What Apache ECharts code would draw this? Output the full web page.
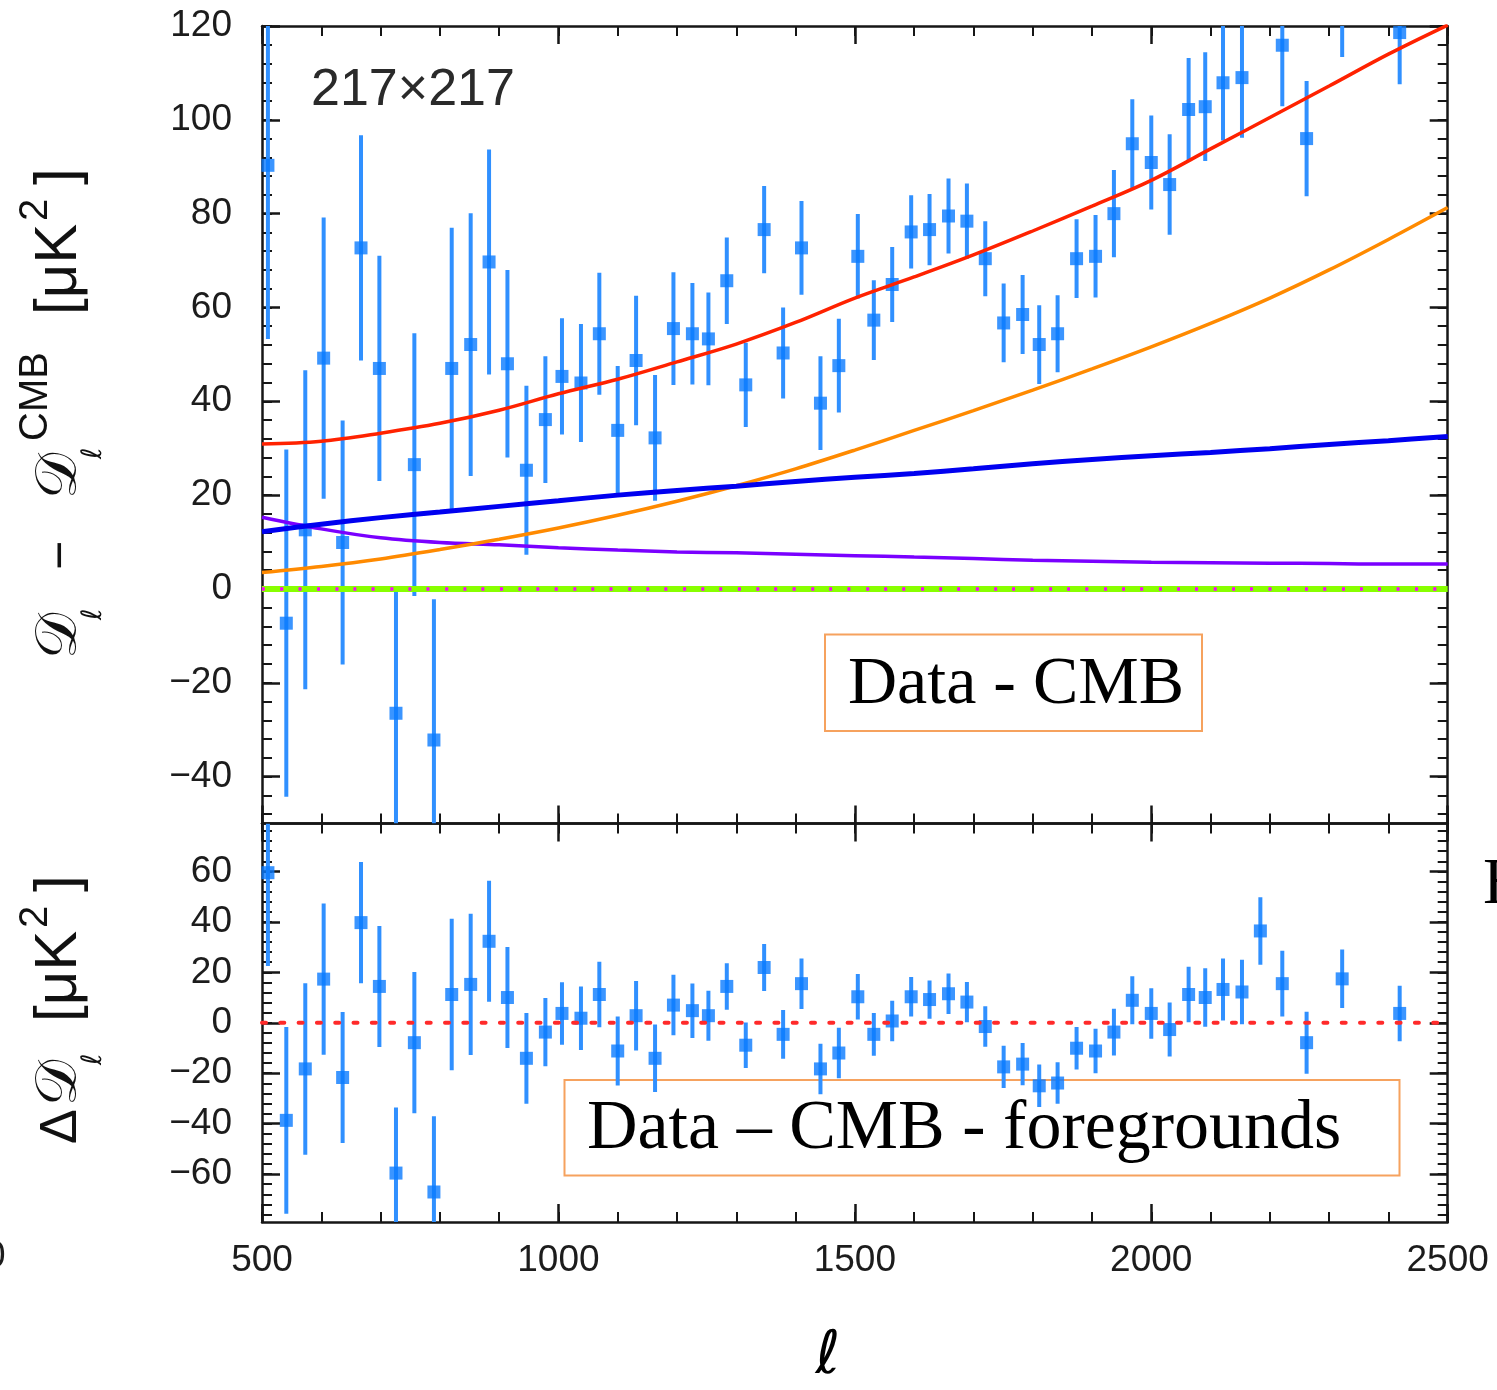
<!DOCTYPE html>
<html>
<head>
<meta charset="utf-8">
<script src="https://cdn.jsdelivr.net/npm/echarts@6/dist/echarts.min.js"></script>
<style>
html, body { margin: 0; padding: 0; background: #ffffff; }
#chart { width: 1497px; height: 1390px; }
</style>
</head>
<body>
<div id="chart"></div>
<script>
// Band-power multipoles (bin centres)
const ell = [510, 541, 573, 604, 636, 667, 698, 726, 757, 790,
             820, 852, 883, 914, 946, 978, 1006, 1038, 1069, 1100,
             1131, 1163, 1194, 1226, 1253, 1284, 1316, 1347, 1379, 1410,
             1442, 1473, 1505, 1532, 1563, 1595, 1626, 1658, 1689, 1720,
             1751, 1783, 1811, 1842, 1874, 1906, 1937, 1968, 2000, 2031,
             2063, 2091, 2121, 2153, 2184, 2221, 2262, 2322, 2419];

// D_l - D_l^CMB  [muK^2]
const dataMinusCmb = [90.3, -7.3, 12.6, 49.2, 9.9, 72.7, 47.0, -26.5, 26.5, -32.2,
                      47.0, 52.1, 69.7, 48.0, 25.3, 36.1, 45.3, 43.9, 54.4, 33.8,
                      48.7, 32.2, 55.5, 54.4, 53.3, 65.7, 43.5, 76.6, 50.3, 72.7,
                      39.6, 47.6, 70.9, 57.3, 64.9, 76.1, 76.6, 79.5, 78.4, 70.4,
                      56.7, 58.5, 52.1, 54.4, 70.4, 70.9, 80.0, 94.9, 90.9, 86.2,
                      102.2, 102.8, 107.9, 109.0, 135.0, 115.9, 96.0, 125.0, 118.6];

// Residual after CMB and foregrounds  [muK^2]
const residual = [59.5, -38.7, -18.3, 17.3, -21.7, 39.7, 14.4, -59.6, -7.9, -67.1,
                  11.2, 15.2, 32.3, 10.0, -14.1, -3.7, 3.7, 1.8, 11.2, -11.2,
                  2.8, -14.1, 7.0, 4.8, 2.8, 14.4, -8.9, 21.9, -4.6, 15.5,
                  -18.3, -12.0, 10.3, -4.6, 0.7, 10.3, 9.2, 11.5, 8.2, -1.5,
                  -17.5, -16.4, -25.0, -23.9, -10.1, -11.2, -3.7, 8.9, 3.7, -2.7,
                  11.2, 10.0, 13.2, 12.2, 36.4, 15.5, -7.9, 17.4, 3.7];

// 1-sigma uncertainty of each band power
const sigma = [37, 37, 34, 30, 26, 24, 24, 26, 28, 30,
               30, 28, 24, 20, 18, 13.5, 12.4, 12.6, 13, 13.7,
               13.8, 13.4, 12, 10.8, 9.9, 9.2, 9, 9.3, 9.7, 10,
               10, 10, 9, 8.5, 8, 7.8, 7.6, 8, 8, 8,
               8.4, 8.4, 8.4, 8.2, 8.4, 8.8, 9.3, 9.5, 10, 10.7,
               11, 11.6, 12.3, 12.8, 13.4, 13, 12.3, 11.6, 11];

// Foreground model components sampled every 100 in multipole
const modelEll = [500, 600, 700, 800, 900, 1000, 1100, 1200, 1300, 1400, 1500,
                  1600, 1700, 1800, 1900, 2000, 2100, 2200, 2300, 2400, 2500];
const totalModel = [30.9, 31.5, 33.2, 35.3, 38.1, 41.6, 44.7, 48.4, 52.2, 56.8, 62.0,
                    66.5, 71.2, 76.3, 81.6, 87.1, 93.8, 100.5, 107.2, 114.0, 120.2];
const poissonModel = [3.5, 4.8, 6.4, 8.4, 10.6, 13.0, 15.7, 18.7, 22.0, 25.6, 29.6,
                      33.8, 38.0, 42.4, 46.9, 51.6, 56.6, 62.0, 68.0, 74.5, 81.3];
const clusteredModel = [12.2, 13.8, 15.2, 16.4, 17.6, 18.8, 20.0, 21.0, 21.9, 22.9, 23.8,
                        24.6, 25.6, 26.7, 27.6, 28.4, 29.1, 29.9, 30.8, 31.6, 32.5];
const szModel = [15.3, 12.8, 10.9, 9.9, 9.4, 8.8, 8.3, 7.9, 7.7, 7.4, 7.1,
                 6.8, 6.5, 6.1, 5.9, 5.7, 5.6, 5.5, 5.4, 5.3, 5.3];
const greenModel = [0, 0, 0, 0, 0, 0, 0, 0, 0, 0, 0, 0, 0, 0, 0, 0, 0, 0, 0, 0, 0];
const magentaModel = [0, 0, 0, 0, 0, 0, 0, 0, 0, 0, 0, 0, 0, 0, 0, 0, 0, 0, 0, 0, 0];
const residualZero = [0, 0, 0, 0, 0, 0, 0, 0, 0, 0, 0, 0, 0, 0, 0, 0, 0, 0, 0, 0, 0];

// Axis ticks and labels
const ellMajor = [500, 1000, 1500, 2000, 2500];
const topLabels = [-40, -20, 0, 20, 40, 60, 80, 100, 120];
const resLabels = [-60, -40, -20, 0, 20, 40, 60];

const X_MIN = 500, X_MAX = 2500;
const TOP_MIN = -50, TOP_MAX = 120;
const RES_MIN = -79, RES_MAX = 79;

function stepValues(from, to, step) {
  const out = [];
  for (let v = from; v <= to + 1e-9; v += step) out.push(v);
  return out;
}
const ellMinor = stepValues(500, 2500, 100);
const topMinor = stepValues(-48, 120, 4);
const resMinor = stepValues(-76, 76, 4);
const topMajor = stepValues(-40, 120, 20);
const resMajor = stepValues(-60, 60, 20);

const INK = '#161616';
const LABEL_FONT = 'Liberation Sans';
const fmt = v => String(v).replace('-', '\u2212');

function axis(kind, grid, position, min, max, ticks, len, labels, margin) {
  const a = {
    type: 'value', gridIndex: grid, position: position, min: min, max: max,
    splitLine: { show: false },
    axisLine: { show: len > 12, onZero: false, lineStyle: { color: INK, width: 2.5 } },
    axisTick: { show: true, inside: true, length: len, customValues: ticks,
                lineStyle: { color: INK, width: len > 12 ? 2.5 : 2 } },
    axisLabel: { show: false }
  };
  if (labels) {
    a.axisLabel = { show: true, customValues: labels, formatter: fmt,
                    fontFamily: LABEL_FONT, fontSize: 37, color: '#1c1c1c', margin: margin };
  }
  return a;
}

const xAxes = [
  axis('x', 0, 'bottom', X_MIN, X_MAX, ellMajor, 18, null),
  axis('x', 0, 'bottom', X_MIN, X_MAX, ellMinor, 10, null),
  axis('x', 0, 'top', X_MIN, X_MAX, ellMajor, 18, null),
  axis('x', 0, 'top', X_MIN, X_MAX, ellMinor, 10, null),
  axis('x', 1, 'bottom', X_MIN, X_MAX, ellMajor, 18, ellMajor, 20),
  axis('x', 1, 'bottom', X_MIN, X_MAX, ellMinor, 10, null),
  axis('x', 1, 'top', X_MIN, X_MAX, ellMajor, 18, null),
  axis('x', 1, 'top', X_MIN, X_MAX, ellMinor, 10, null)
];
const yAxes = [
  axis('y', 0, 'left', TOP_MIN, TOP_MAX, topMajor, 18, topLabels, 30),
  axis('y', 0, 'left', TOP_MIN, TOP_MAX, topMinor, 10, null),
  axis('y', 0, 'right', TOP_MIN, TOP_MAX, topMajor, 18, null),
  axis('y', 0, 'right', TOP_MIN, TOP_MAX, topMinor, 10, null),
  axis('y', 1, 'left', RES_MIN, RES_MAX, resMajor, 18, resLabels, 30),
  axis('y', 1, 'left', RES_MIN, RES_MAX, resMinor, 10, null),
  axis('y', 1, 'right', RES_MIN, RES_MAX, resMajor, 18, null),
  axis('y', 1, 'right', RES_MIN, RES_MAX, resMinor, 10, null)
];

const pairs = (xs, ys) => xs.map((x, i) => [x, ys[i]]);

function curve(values, color, width, z, dash) {
  return {
    type: 'line', xAxisIndex: 0, yAxisIndex: 0, data: pairs(modelEll, values),
    symbol: 'none', smooth: 0.35, clip: true, silent: true, z: z,
    lineStyle: { color: color, width: width, type: dash || 'solid' }
  };
}

function errorBars(xi, yi, values, lo, hi) {
  return {
    type: 'custom', xAxisIndex: xi, yAxisIndex: yi, z: 2, silent: true, clip: true,
    data: ell.map((l, i) => [l, values[i] - sigma[i], values[i] + sigma[i]]),
    encode: { x: 0, y: [1, 2] },
    renderItem: function (params, api) {
      const x = api.value(0);
      const a = Math.max(api.value(1), lo);
      const b = Math.min(api.value(2), hi);
      if (a >= b) return null;
      const p1 = api.coord([x, a]);
      const p2 = api.coord([x, b]);
      return { type: 'line', shape: { x1: p1[0], y1: p1[1], x2: p2[0], y2: p2[1] },
               style: { stroke: '#3090ff', lineWidth: 4 } };
    }
  };
}

function markers(xi, yi, values) {
  return {
    type: 'scatter', xAxisIndex: xi, yAxisIndex: yi, z: 3, silent: true, clip: true,
    data: pairs(ell, values), symbol: 'rect', symbolSize: 13,
    itemStyle: { color: '#0a7bff' }
  };
}

function vtext(txt, X, Y, font) {
  return { type: 'text', x: X, y: Y, rotation: Math.PI / 2, silent: true, z: 10,
           style: { text: txt, font: font, fill: '#111111', align: 'left', verticalAlign: 'middle' } };
}

const SCRIPT = '"DejaVu Serif", "DejaVu Sans", serif';
const SANS = '"Liberation Sans", Arial, sans-serif';
const SERIF = '"Liberation Serif", "Times New Roman", serif';

const option = {
  animation: false,
  backgroundColor: '#ffffff',
  grid: [
    { left: 262, top: 26, width: 1185.7, height: 797.5 },
    { left: 262, top: 823.5, width: 1185.7, height: 398.5 }
  ],
  xAxis: xAxes,
  yAxis: yAxes,
  series: [
    errorBars(0, 0, dataMinusCmb, TOP_MIN, TOP_MAX),
    markers(0, 0, dataMinusCmb),
    curve(greenModel, '#88ff00', 6, 4),
    curve(magentaModel, '#ff00ff', 3.5, 5, [3, 15.3]),
    curve(szModel, '#7a00ff', 3.5, 6),
    curve(poissonModel, '#ff8a00', 3.5, 6),
    curve(clusteredModel, '#0000f0', 5, 6),
    curve(totalModel, '#ff2200', 3.5, 7),
    errorBars(4, 4, residual, RES_MIN, RES_MAX),
    markers(4, 4, residual),
    {
      type: 'line', xAxisIndex: 4, yAxisIndex: 4, data: pairs(modelEll, residualZero),
      symbol: 'none', silent: true, z: 5,
      lineStyle: { color: '#ff2a2a', width: 4, type: [4, 14.3], cap: 'round' }
    }
  ],
  graphic: [
    { type: 'text', x: 311, y: 91, silent: true,
      style: { text: '217\u00d7217', font: '52px ' + SANS, fill: '#2a2a2a', align: 'left', verticalAlign: 'middle' } },

    { type: 'rect', silent: true, shape: { x: 825, y: 634.5, width: 377, height: 96.5 },
      style: { fill: 'none', stroke: '#f6a25e', lineWidth: 2 } },
    { type: 'text', x: 848, y: 685, silent: true,
      style: { text: 'Data - CMB', font: '68px ' + SERIF, fill: '#000000', align: 'left', verticalAlign: 'middle' } },

    { type: 'rect', silent: true, shape: { x: 564.5, y: 1080, width: 835, height: 95.5 },
      style: { fill: 'none', stroke: '#f6a25e', lineWidth: 2 } },
    { type: 'text', x: 587, y: 1130, silent: true,
      style: { text: 'Data \u2013 CMB - foregrounds', font: '70px ' + SERIF, fill: '#000000', align: 'left', verticalAlign: 'middle' } },

    { type: 'text', x: 1483, y: 886, silent: true,
      style: { text: 'H', font: '66px ' + SERIF, fill: '#000000', align: 'left', verticalAlign: 'middle' } },
    { type: 'text', x: -15, y: 1257, silent: true,
      style: { text: '0', font: '37px ' + SANS, fill: '#1c1c1c', align: 'left', verticalAlign: 'middle' } },

    { type: 'text', x: 828, y: 1357, silent: true,
      style: { text: '\u2113', font: 'italic 60px ' + SCRIPT, fill: '#000000', align: 'center', verticalAlign: 'middle' } },

    // upper panel axis title: D_l - D_l^CMB [muK^2]
    vtext('\ud835\udc9f', 61, 659, '58px ' + SCRIPT),
    vtext('\u2113', 94, 620, 'italic 28px ' + SCRIPT),
    vtext('\u2212', 62, 570, '50px ' + SANS),
    vtext('\ud835\udc9f', 61, 499, '58px ' + SCRIPT),
    vtext('\u2113', 94, 459, 'italic 28px ' + SCRIPT),
    vtext('CMB', 36, 441, '40px ' + SANS),
    vtext('[\u03bcK', 59, 315, '60px ' + SANS),
    vtext('2', 36, 221, '40px ' + SANS),
    vtext(']', 59, 185, '60px ' + SANS),

    // lower panel axis title: Delta D_l [muK^2]
    vtext('\u0394', 62, 1144, '52px ' + SANS),
    vtext('\ud835\udc9f', 61, 1106, '58px ' + SCRIPT),
    vtext('\u2113', 94, 1065, 'italic 28px ' + SCRIPT),
    vtext('[\u03bcK', 59, 1022, '60px ' + SANS),
    vtext('2', 36, 928, '40px ' + SANS),
    vtext(']', 59, 892, '60px ' + SANS)
  ]
};

const chart = echarts.init(document.getElementById('chart'), null, { renderer: 'canvas' });
chart.setOption(option);
</script>
</body>
</html>
